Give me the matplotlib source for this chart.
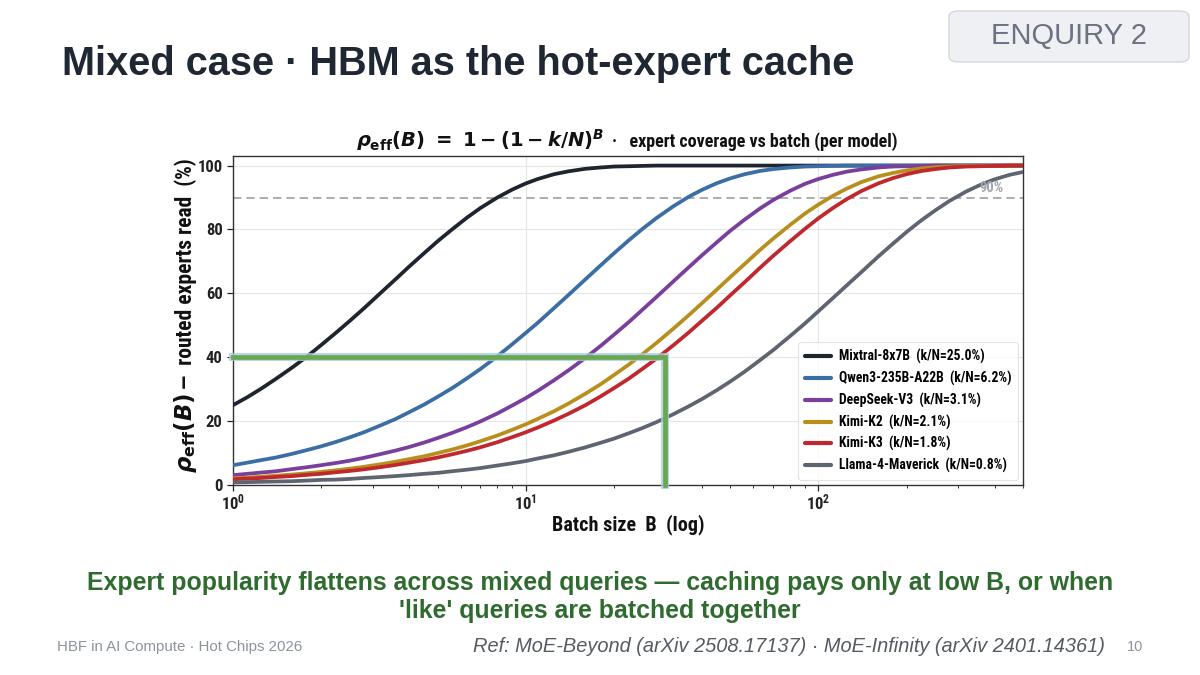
import matplotlib
matplotlib.use("Agg")
import matplotlib.pyplot as plt
import matplotlib.patheffects as pe
from matplotlib.patches import FancyBboxPatch
from matplotlib import font_manager as fm
from matplotlib.font_manager import FontProperties

# ---------------- data ----------------
batch = [1, 1.12, 1.25, 1.4, 1.6, 1.8, 2, 2.25, 2.5, 2.8, 3.2, 3.6, 4, 4.5, 5, 5.6,
         6.3, 7, 8, 9, 10, 11, 12.5, 14, 16, 18, 20, 22.5, 25, 28, 32, 36, 40, 45,
         50, 56, 63, 70, 80, 90, 100, 112, 125, 140, 160, 180, 200, 225, 250, 280,
         320, 360, 400, 450, 500]

mixtral = [25.0, 27.5, 30.2, 33.2, 36.9, 40.4, 43.8, 47.7, 51.3, 55.3, 60.2, 64.5,
           68.4, 72.6, 76.3, 80.0, 83.7, 86.7, 90.0, 92.5, 94.4, 95.8, 97.3, 98.2,
           99.0, 99.4, 99.7, 99.8, 99.9, 100, 100, 100, 100, 100, 100, 100, 100, 100,
           100, 100, 100, 100, 100, 100, 100, 100, 100, 100, 100, 100, 100, 100, 100,
           100, 100]
qwen = [6.2, 7.0, 7.8, 8.6, 9.8, 11.0, 12.1, 13.5, 14.9, 16.5, 18.7, 20.7, 22.8,
        25.2, 27.6, 30.3, 33.4, 36.3, 40.3, 44.1, 47.6, 50.8, 55.4, 59.5, 64.4, 68.7,
        72.5, 76.6, 80.1, 83.6, 87.3, 90.2, 92.4, 94.5, 96.0, 97.3, 98.3, 98.9, 99.4,
        99.7, 99.8, 99.9, 100, 100, 100, 100, 100, 100, 100, 100, 100, 100, 100, 100, 100]
deepseek = [3.1, 3.5, 3.9, 4.3, 5.0, 5.6, 6.2, 6.9, 7.6, 8.5, 9.7, 10.8, 11.9, 13.3,
            14.7, 16.3, 18.1, 19.9, 22.4, 24.9, 27.2, 29.5, 32.8, 35.9, 39.8, 43.5,
            47.0, 51.0, 54.8, 58.9, 63.8, 68.1, 71.9, 76.0, 79.6, 83.1, 86.5, 89.2,
            92.1, 94.3, 95.8, 97.1, 98.1, 98.8, 99.4, 99.7, 99.8, 99.9, 100, 100, 100,
            100, 100, 100, 100]
kimi_k2 = [2.1, 2.3, 2.6, 2.9, 3.3, 3.7, 4.1, 4.6, 5.1, 5.7, 6.5, 7.3, 8.1, 9.0, 10.0,
           11.1, 12.4, 13.7, 15.5, 17.3, 19.0, 20.7, 23.1, 25.5, 28.6, 31.5, 34.4, 37.7,
           40.9, 44.5, 49.0, 53.1, 56.9, 61.2, 65.1, 69.2, 73.5, 77.1, 81.4, 85.0, 87.8,
           90.5, 92.8, 94.8, 96.6, 97.7, 98.5, 99.1, 99.5, 99.7, 99.9, 99.9, 100, 100, 100]
kimi_k3 = [1.8, 2.0, 2.2, 2.5, 2.8, 3.2, 3.5, 4.0, 4.4, 4.9, 5.6, 6.3, 7.0, 7.8, 8.6,
           9.6, 10.7, 11.8, 13.4, 15.0, 16.5, 18.0, 20.2, 22.3, 25.0, 27.7, 30.3, 33.3,
           36.3, 39.6, 43.8, 47.7, 51.4, 55.5, 59.4, 63.5, 67.9, 71.7, 76.3, 80.2, 83.5,
           86.7, 89.5, 92.0, 94.4, 96.1, 97.3, 98.3, 98.9, 99.4, 99.7, 99.8, 99.9, 100, 100]
llama = [0.8, 0.9, 1.0, 1.1, 1.2, 1.4, 1.6, 1.7, 1.9, 2.2, 2.5, 2.8, 3.1, 3.5, 3.8,
         4.3, 4.8, 5.3, 6.1, 6.8, 7.5, 8.3, 9.3, 10.4, 11.8, 13.2, 14.5, 16.2, 17.8,
         19.7, 22.2, 24.6, 26.9, 29.7, 32.4, 35.5, 39.0, 42.2, 46.6, 50.6, 54.4, 58.5,
         62.5, 66.6, 71.5, 75.6, 79.2, 82.9, 85.9, 88.9, 91.9, 94.1, 95.7, 97.1, 98.0]

series_labels = ["Mixtral-8x7B  (k/N=25.0%)", "Qwen3-235B-A22B  (k/N=6.2%)",
                 "DeepSeek-V3  (k/N=3.1%)", "Kimi-K2  (k/N=2.1%)",
                 "Kimi-K3  (k/N=1.8%)", "Llama-4-Maverick  (k/N=0.8%)"]
series_values = [mixtral, qwen, deepseek, kimi_k2, kimi_k3, llama]
series_colors = ["#1e252e", "#3a6ea5", "#7a3f9d", "#b88f1d", "#c0282e", "#5e6570"]

y_ticks = [0, 20, 40, 60, 80, 100]
threshold = 90
highlight_B = 30
highlight_rho = 40

# ---------------- fonts ----------------
def find_condensed_bold():
    prefs = ["Liberation Sans Narrow", "Roboto Condensed", "DejaVu Sans",
             "Open Sans Condensed", "Noto Sans"]
    found = {}
    for f in fm.fontManager.ttflist:
        st = f.stretch
        is_cond = ("Narrow" in f.name or "Condensed" in f.name or
                   (isinstance(st, str) and "condensed" in st) or
                   (isinstance(st, int) and st < 500) or
                   "Condensed" in f.fname or "Narrow" in f.fname)
        w = f.weight
        is_bold = (w == "bold") or (isinstance(w, int) and w >= 600)
        if is_cond and is_bold and f.style == "normal":
            found.setdefault(f.name, f.fname)
    for p in prefs:
        if p in found:
            return found[p]
    if found:
        return sorted(found.values())[0]
    return None

COND = find_condensed_bold()


def cf(size):
    if COND:
        return FontProperties(fname=COND, size=size)
    return FontProperties(family=["Liberation Sans", "DejaVu Sans"], weight="bold",
                          size=size * 0.86)


SANS = ["Liberation Sans", "DejaVu Sans"]
plt.rcParams["mathtext.fontset"] = "custom"
plt.rcParams["mathtext.rm"] = "DejaVu Sans:bold"
plt.rcParams["mathtext.bf"] = "DejaVu Sans:bold"
plt.rcParams["mathtext.it"] = "DejaVu Sans:italic:bold"
plt.rcParams["mathtext.sf"] = "DejaVu Sans:bold"

# ---------------- figure ----------------
W, H = 1200, 675
fig = plt.figure(figsize=(12, 6.75), dpi=100)
fig.patch.set_facecolor("white")


def fx(px):
    return px / W


def fy(py):
    return 1 - py / H


# slide title
fig.text(fx(62), fy(64), "Mixed case · HBM as the hot-expert cache",
         fontsize=28.6, fontweight="bold", color="#1f2733", family=SANS,
         ha="left", va="center")

# badge
badge = FancyBboxPatch((fx(949), fy(62)), 240 / W, 51 / H,
                       boxstyle="round,pad=0,rounding_size=0.008",
                       transform=fig.transFigure, facecolor="#eef0f3",
                       edgecolor="#d3d8de", linewidth=1.0)
fig.patches.append(badge)
fig.text(fx(1069), fy(36), "ENQUIRY 2", fontsize=21, color="#6b7280", family=SANS,
         ha="center", va="center")

# axes
ax = fig.add_axes([fx(233), fy(485), 790 / W, 329 / H])
ax.set_xscale("log")
ax.set_xlim(1, 500)
ax.set_ylim(0, 103)

for vals, lab, col in zip(series_values, series_labels, series_colors):
    ax.plot(batch, vals, color=col, lw=2.7, label=lab, solid_capstyle="round",
            solid_joinstyle="round", zorder=3)

ax.axhline(threshold, color="#a0a0a0", lw=1.2, ls=(0, (5, 3)), zorder=2)
ax.text(390, threshold + 0.8, "90%", color="#a0a6ae", fontproperties=cf(10.5),
        ha="center", va="bottom")

glow = [pe.Stroke(linewidth=5.8, foreground="#a9cbe9", alpha=0.8), pe.Normal()]
ax.plot([1, highlight_B, highlight_B], [highlight_rho, highlight_rho, 0],
        color="#6aa84f", lw=3.4, solid_joinstyle="miter", zorder=4,
        path_effects=glow, clip_on=False)

ax.grid(True, which="major", color="#e6e6e6", lw=0.8, zorder=0)
ax.set_axisbelow(True)
for sp in ax.spines.values():
    sp.set_color("#333333")
    sp.set_linewidth(1.0)
ax.set_yticks(y_ticks)
ax.tick_params(axis="both", which="major", direction="out", length=4, width=0.9,
               colors="#222222")
ax.tick_params(axis="x", which="minor", direction="out", length=2.5, width=0.7,
               colors="#333333")
ax.tick_params(axis="x", which="major", pad=1.5)
fig.canvas.draw()
for lab in ax.get_xticklabels() + ax.get_yticklabels():
    lab.set_fontproperties(cf(12))

# chart title (math part + text part)
fig.text(fx(604), fy(147), r"$\rho_{\mathrm{eff}}(B)\ =\ 1-(1-k/N)^{B}$",
         fontsize=14, color="#111111", ha="right", va="baseline")
fig.text(fx(612), fy(147), "·   expert coverage vs batch (per model)",
         fontproperties=cf(13), color="#111111", ha="left", va="baseline")

# axis labels
ax.set_xlabel("Batch size  B  (log)", fontproperties=cf(14.5), color="#111111",
              labelpad=1)
ax.text(-0.060, (485 - 393) / 329, r"$\rho_{\mathrm{eff}}(B)$", transform=ax.transAxes,
        rotation=90, fontsize=16.5, color="#111111", ha="center", va="top")
ax.text(-0.060, (485 - 389) / 329, "—  routed experts read  (%)", transform=ax.transAxes,
        rotation=90, fontproperties=cf(15.5), color="#111111", ha="center", va="bottom")

leg = ax.legend(loc="lower right", frameon=True, handlelength=1.9, borderpad=0.5,
                labelspacing=0.5, handletextpad=0.6, borderaxespad=0.0,
                bbox_to_anchor=(0.994, 0.015), prop=cf(9.8))
leg.get_frame().set_edgecolor("#dddddd")
leg.get_frame().set_linewidth(0.8)
for line in leg.get_lines():
    line.set_linewidth(3.0)

# caption
cap_kw = dict(fontsize=17.9, fontweight="bold", color="#2f6b2f", family=SANS,
              ha="center", va="center")
fig.text(0.5, fy(583),
         "Expert popularity flattens across mixed queries — caching pays only at low B, or when",
         **cap_kw)
fig.text(0.5, fy(611), "'like' queries are batched together", **cap_kw)

# footer
fig.text(fx(57), fy(647), "HBF in AI Compute · Hot Chips 2026", fontsize=10.8,
         color="#8b939e", family=SANS, ha="left", va="center")
fig.text(fx(1105), fy(646),
         "Ref: MoE-Beyond (arXiv 2508.17137) · MoE-Infinity (arXiv 2401.14361)",
         fontsize=14.4, style="italic", color="#555b63", family=SANS,
         ha="right", va="center")
fig.text(fx(1135), fy(647), "10", fontsize=10.5, color="#8b939e", family=SANS,
         ha="center", va="center")

fig.savefig("out.png", dpi=100, facecolor="white")
